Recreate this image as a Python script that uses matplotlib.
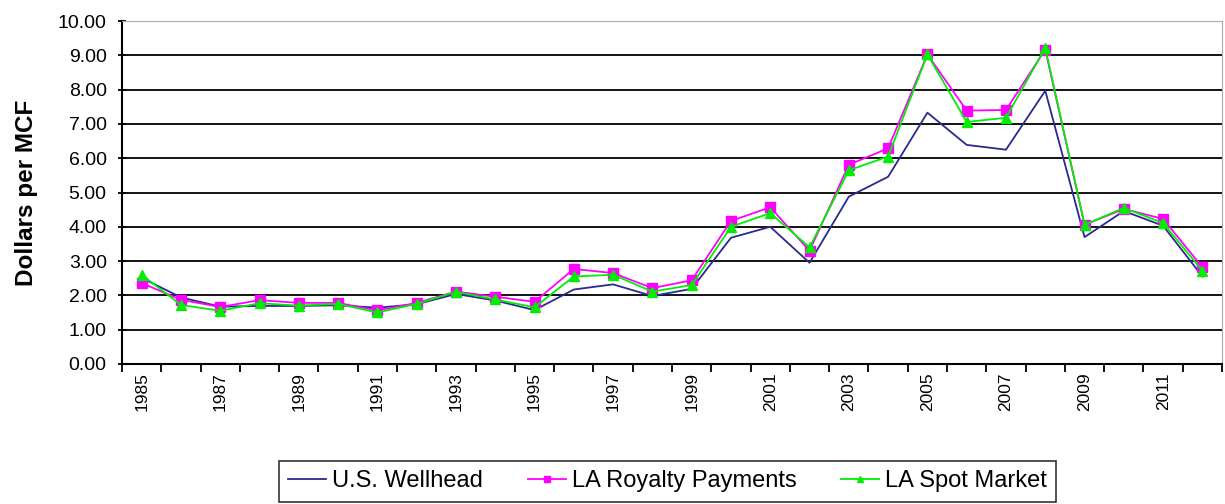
import matplotlib.pyplot as plt
import numpy as np

plt.rcParams['font.family'] = ['Liberation Sans', 'DejaVu Sans']

years = list(range(1985, 2013))
wellhead = [2.51, 1.94, 1.67, 1.69, 1.69, 1.71, 1.64, 1.74, 2.04, 1.85, 1.57, 2.17,
            2.32, 1.98, 2.19, 3.68, 4.00, 2.95, 4.88, 5.46, 7.33, 6.39, 6.25, 7.97,
            3.70, 4.46, 4.03, 2.55]
royalty = [2.36, 1.87, 1.66, 1.86, 1.78, 1.78, 1.56, 1.78, 2.11, 1.96, 1.81, 2.77,
           2.65, 2.21, 2.44, 4.17, 4.57, 3.30, 5.81, 6.29, 9.03, 7.39, 7.41, 9.17,
           4.06, 4.52, 4.23, 2.82]
spot = [2.60, 1.72, 1.55, 1.77, 1.70, 1.75, 1.50, 1.75, 2.10, 1.88, 1.65, 2.55,
        2.60, 2.11, 2.30, 4.00, 4.40, 3.40, 5.65, 6.05, 9.03, 7.06, 7.18, 9.22,
        4.06, 4.55, 4.11, 2.72]

fig = plt.figure(figsize=(12.25, 5.04), dpi=100)
ax = fig.add_axes([0.0996, 0.278, 0.898, 0.680])

x = np.arange(len(years))
ax.plot(x, wellhead, color='#2a2a8c', lw=1.3, label='U.S. Wellhead')
ax.plot(x, royalty, color='#ff00ff', lw=1.3, marker='s', ms=7, label='LA Royalty Payments')
ax.plot(x, spot, color='#00ee00', lw=1.3, marker='^', ms=7, label='LA Spot Market')

ax.set_xlim(-0.5, len(years) - 0.5)
ax.set_ylim(0, 10)
ax.set_yticks(np.arange(0, 10.01, 1))
ax.set_yticklabels([f'{v:.2f}' for v in np.arange(0, 10.01, 1)], fontsize=14)
ax.yaxis.grid(True, color='black', lw=1.3)
ax.set_axisbelow(True)

ax.set_xticks(x[::2])
ax.set_xticklabels([str(y) for y in years[::2]], rotation=90, fontsize=12.5)
ax.set_xticks(np.arange(-0.5, len(years), 1), minor=True)
ax.tick_params(axis='x', which='major', length=0, pad=6)
ax.tick_params(axis='x', which='minor', length=6, width=1.3, direction='out')
ax.tick_params(axis='y', length=6, width=1.3, direction='inout', pad=8)

for s in ['left', 'bottom']:
    ax.spines[s].set_linewidth(1.5)
for s in ['top', 'right']:
    ax.spines[s].set_color('#aaaaaa')

ax.set_ylabel('Dollars per MCF', fontsize=17.5, fontweight='bold', labelpad=14)

leg = fig.legend(loc='center', bbox_to_anchor=(0.545, 0.045), ncol=3, fontsize=17,
                 frameon=True, fancybox=False, edgecolor='black', handlelength=1.6,
                 handletextpad=0.25, columnspacing=1.9, borderpad=0.4, markerscale=0.6)
leg.get_frame().set_linewidth(1.2)

fig.savefig('out.png', dpi=100)
